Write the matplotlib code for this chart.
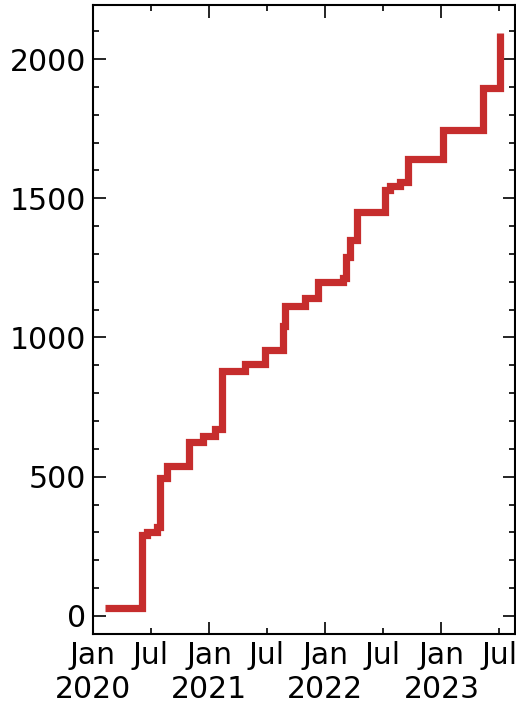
import matplotlib
matplotlib.use("Agg")
import matplotlib.pyplot as plt
import matplotlib.dates as mdates
import numpy as np
import datetime as dt

dates = ["2020-02-07", "2020-06-03", "2020-06-20", "2020-07-20", "2020-07-30",
         "2020-08-20", "2020-10-30", "2020-12-12", "2021-01-19", "2021-02-10",
         "2021-04-23", "2021-06-25", "2021-08-21", "2021-08-27", "2021-10-30",
         "2021-12-10", "2022-02-26", "2022-03-07", "2022-03-20", "2022-04-11",
         "2022-07-08", "2022-07-24", "2022-08-24", "2022-09-18", "2023-01-07",
         "2023-05-12", "2023-07-05"]
values = [30, 290, 300, 320, 495,
          540, 625, 645, 670, 880,
          905, 955, 1040, 1112, 1140,
          1200, 1215, 1290, 1350, 1452,
          1530, 1545, 1558, 1642, 1745,
          1895, 2095]

x = [dt.datetime.strptime(d, "%Y-%m-%d") for d in dates]

fig = plt.figure(figsize=(5.16, 7.02), dpi=100)
ax = fig.add_axes([0.180, 0.0969, 0.818, 0.896])
ax.step(x, values, where="post", color="#c62d2d", linewidth=5.2, solid_capstyle="butt",
        solid_joinstyle="miter")

ax.set_xlim(dt.datetime(2020, 1, 1), dt.datetime(2023, 8, 20))
ax.set_ylim(-65, 2194)

ax.xaxis.set_major_locator(mdates.MonthLocator(bymonth=1))
ax.xaxis.set_major_formatter(mdates.DateFormatter("%b\n%Y"))
ax.xaxis.set_minor_locator(mdates.MonthLocator(bymonth=7))
ax.xaxis.set_minor_formatter(mdates.DateFormatter("%b"))
ax.yaxis.set_major_locator(plt.MultipleLocator(500))
ax.yaxis.set_minor_locator(plt.MultipleLocator(100))

ax.tick_params(which="both", direction="in", top=True, right=True, labelsize=21.5, width=1.2)
ax.tick_params(which="major", length=9, pad=5)
ax.tick_params(which="minor", length=4.5, pad=5)
ax.tick_params(axis="y", which="minor", labelleft=False)
for s in ax.spines.values():
    s.set_linewidth(1.5)

fig.savefig("out.png", dpi=100)
